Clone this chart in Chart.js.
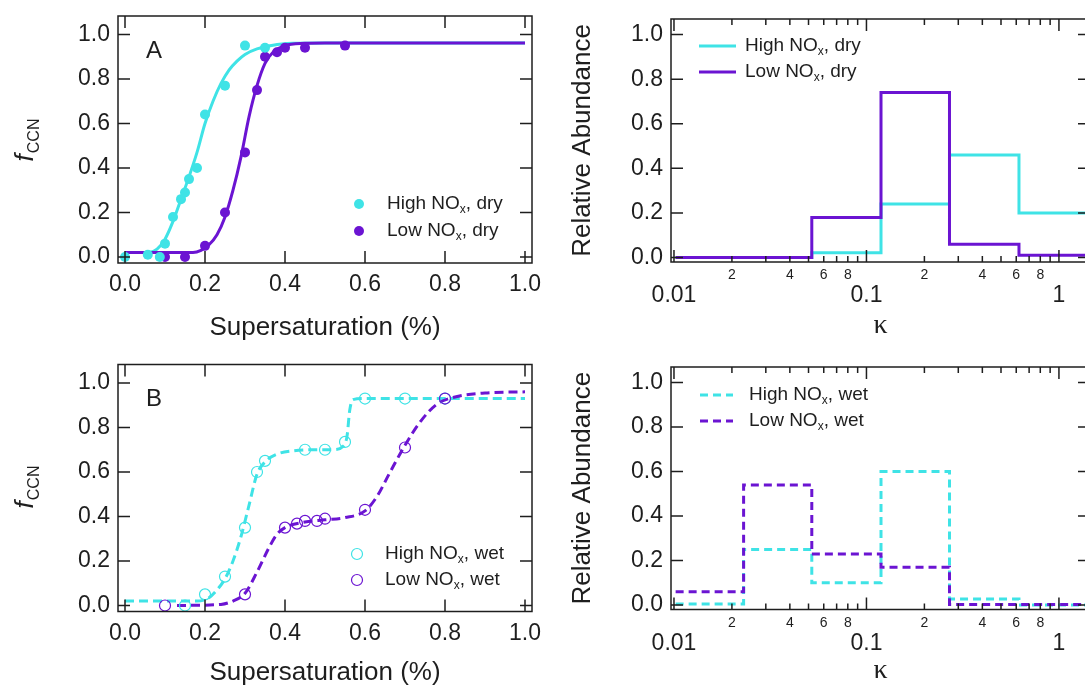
<!DOCTYPE html>
<html>
<head>
<meta charset="utf-8">
<script src="https://cdn.jsdelivr.net/npm/chart.js@4.4.1/dist/chart.umd.min.js"></script>
<style>
html, body { margin: 0; padding: 0; background: #fff; overflow: hidden; width: 1085px; height: 690px; }
canvas { position: absolute; }
</style>
</head>
<body>
<canvas id="pA" width="545" height="345" style="left:0;top:0"></canvas>
<canvas id="pAk" width="560" height="345" style="left:545px;top:0"></canvas>
<canvas id="pB" width="545" height="345" style="left:0;top:345px"></canvas>
<canvas id="pBk" width="560" height="345" style="left:545px;top:345px"></canvas>
<script>
var FONT = "'Liberation Sans', Arial, Helvetica, sans-serif";
var INK = '#1e1e1e';
var CYAN = '#3fe3e6';
var PURPLE = '#6b14d2';

// tick labels
var ssTicks = [0, 0.2, 0.4, 0.6, 0.8, 1.0];
var fracTicks = [0, 0.2, 0.4, 0.6, 0.8, 1.0];
var kappaTicks = [0.01, 0.02, 0.03, 0.04, 0.05, 0.06, 0.07, 0.08, 0.09,
                  0.1, 0.2, 0.3, 0.4, 0.5, 0.6, 0.7, 0.8, 0.9, 1];
var kappaMajor = [0.01, 0.1, 1];
var kappaMinorShown = [2, 4, 6, 8];

// panel A, dry particles: measured points
var highDrySS = [0, 0.057, 0.087, 0.10, 0.12, 0.14, 0.15, 0.16, 0.18, 0.20, 0.25, 0.30, 0.35];
var highDryF  = [0, 0.01, 0, 0.06, 0.18, 0.26, 0.29, 0.35, 0.40, 0.64, 0.77, 0.95, 0.94];
var lowDrySS  = [0.10, 0.15, 0.20, 0.25, 0.30, 0.33, 0.35, 0.38, 0.40, 0.45, 0.55];
var lowDryF   = [0, 0, 0.05, 0.20, 0.47, 0.75, 0.90, 0.92, 0.94, 0.94, 0.95];
// panel A fitted curves
var highDryFitSS = [0, 0.06, 0.08, 0.10, 0.12, 0.14, 0.16, 0.18, 0.20, 0.22, 0.24, 0.26, 0.28, 0.30, 0.33, 0.37, 0.42, 0.5, 1.0];
var highDryFitF  = [0.02, 0.02, 0.035, 0.08, 0.16, 0.26, 0.36, 0.47, 0.60, 0.70, 0.78, 0.84, 0.88, 0.91, 0.935, 0.952, 0.96, 0.962, 0.962];
var lowDryFitSS  = [0, 0.17, 0.19, 0.21, 0.23, 0.25, 0.27, 0.29, 0.31, 0.33, 0.35, 0.37, 0.40, 0.45, 0.5, 1.0];
var lowDryFitF   = [0.02, 0.02, 0.03, 0.055, 0.10, 0.18, 0.30, 0.45, 0.63, 0.77, 0.87, 0.92, 0.95, 0.96, 0.962, 0.962];

// panel B, wet particles: measured points
var highWetSS = [0.15, 0.20, 0.25, 0.30, 0.33, 0.35, 0.45, 0.50, 0.55, 0.60, 0.70, 0.80];
var highWetF  = [0, 0.05, 0.13, 0.35, 0.60, 0.65, 0.70, 0.70, 0.735, 0.93, 0.93, 0.93];
var lowWetSS  = [0.10, 0.30, 0.40, 0.43, 0.45, 0.48, 0.50, 0.60, 0.70, 0.80];
var lowWetF   = [0, 0.05, 0.35, 0.368, 0.38, 0.38, 0.39, 0.43, 0.71, 0.93];
// panel B fitted curves
var highWetFitSS = [0, 0.18, 0.21, 0.23, 0.25, 0.27, 0.29, 0.31, 0.33, 0.35, 0.38, 0.42, 0.47, 0.52, 0.545, 0.555, 0.562, 0.57, 0.6, 1.0];
var highWetFitF  = [0.02, 0.02, 0.035, 0.07, 0.12, 0.20, 0.31, 0.45, 0.59, 0.645, 0.68, 0.695, 0.70, 0.70, 0.715, 0.76, 0.88, 0.925, 0.93, 0.93];
var lowWetFitSS  = [0.13, 0.24, 0.27, 0.30, 0.33, 0.36, 0.38, 0.40, 0.45, 0.50, 0.55, 0.60, 0.63, 0.66, 0.70, 0.74, 0.78, 0.82, 0.90, 1.0];
var lowWetFitF   = [0, 0.005, 0.02, 0.055, 0.15, 0.26, 0.32, 0.35, 0.375, 0.385, 0.395, 0.425, 0.49, 0.59, 0.72, 0.83, 0.905, 0.935, 0.955, 0.96];

// kappa distributions (bin edges and relative abundance per bin)
var kappaEdges = [0.0102, 0.023, 0.052, 0.119, 0.27, 0.62, 1.42];
var highDryAbund = [0, 0, 0.022, 0.24, 0.46, 0.20];
var lowDryAbund  = [0, 0, 0.18, 0.74, 0.06, 0.01];
var highWetAbund = [0.005, 0.25, 0.10, 0.60, 0.027, 0];
var lowWetAbund  = [0.06, 0.54, 0.23, 0.17, 0.002, 0.002];

function pts(xs, ys) { return xs.map(function (x, i) { return {x: x, y: ys[i]}; }); }
function steps(edges, vals) {
    return edges.map(function (e, i) { return {x: e, y: vals[Math.min(i, vals.length - 1)]}; });
}

function fixBox(size) {
    return function (s) {
        if (s.isHorizontal()) s.height = size; else s.width = size;
        s.paddingLeft = s.paddingRight = s.paddingTop = s.paddingBottom = 0;
    };
}

function ssAxis(h) {
    return {
        type: 'linear', min: -0.0175, max: 1.0175,
        afterBuildTicks: function (s) { s.ticks = ssTicks.map(function (v) { return {value: v}; }); },
        afterFit: fixBox(h),
        grid: {display: false, drawTicks: false},
        border: {display: false},
        ticks: {padding: 8, color: INK, autoSkip: false, maxRotation: 0,
                font: {family: FONT, size: 23},
                callback: function (v) { return v.toFixed(1); }},
        title: {display: true, text: 'Supersaturation (%)', color: INK,
                font: {family: FONT, size: 26}, padding: {top: 0, bottom: 1.5}}
    };
}

function kappaAxis(h) {
    return {
        type: 'logarithmic', min: 0.00965, max: 1.45,
        afterBuildTicks: function (s) { s.ticks = kappaTicks.map(function (v) { return {value: v}; }); },
        afterFit: fixBox(h),
        grid: {display: false, drawTicks: false},
        border: {display: false},
        ticks: {padding: 5, color: INK, autoSkip: false, maxRotation: 0,
                font: function (c) {
                    if (c.tick && kappaMajor.indexOf(c.tick.value) >= 0) return {family: FONT, size: 23, lineHeight: 0.84};
                    return {family: FONT, size: 14, lineHeight: 1.2};
                },
                callback: function (v) {
                    if (kappaMajor.indexOf(v) >= 0) return ['', String(v)];
                    var m = Math.round(v / Math.pow(10, Math.floor(Math.log10(v) + 1e-9)));
                    return kappaMinorShown.indexOf(m) >= 0 ? String(m) : '';
                }},
        title: {display: true, text: 'κ', color: INK,
                font: {family: "'Liberation Serif', 'DejaVu Serif', serif", size: 28}, padding: {top: 0, bottom: 3}}
    };
}

function fracAxis(w, min, max, title) {
    return {
        type: 'linear', min: min, max: max,
        afterBuildTicks: function (s) { s.ticks = fracTicks.map(function (v) { return {value: v}; }); },
        afterFit: fixBox(w),
        grid: {display: false, drawTicks: false},
        border: {display: false},
        ticks: {padding: 8, color: INK, autoSkip: false,
                font: {family: FONT, size: 23},
                callback: function (v) { return v.toFixed(1); }},
        title: title ? {display: true, text: title, color: INK,
                        font: {family: FONT, size: 26}, padding: {top: 22.5, bottom: 0}} : {display: false}
    };
}

function drawRich(ctx, text, x, y, size) {
    var parts = text.split(/_(.)/);
    ctx.save();
    ctx.fillStyle = INK;
    ctx.textBaseline = 'middle';
    ctx.textAlign = 'left';
    parts.forEach(function (p, i) {
        var sub = i % 2 === 1;
        ctx.font = (sub ? Math.round(size * 0.62) : size) + 'px ' + FONT;
        ctx.fillText(p, x, sub ? y + size * 0.3 : y);
        x += ctx.measureText(p).width;
    });
    ctx.restore();
}

function drawFccn(ctx, x, y) {
    ctx.save();
    ctx.translate(x, y);
    ctx.rotate(-Math.PI / 2);
    ctx.fillStyle = INK;
    ctx.textAlign = 'left';
    ctx.textBaseline = 'alphabetic';
    ctx.font = 'italic 26px ' + FONT;
    var wf = ctx.measureText('f').width;
    ctx.font = '16px ' + FONT;
    var ws = ctx.measureText('CCN').width;
    var x0 = -(wf + ws + 1) / 2;
    ctx.font = 'italic 26px ' + FONT;
    ctx.fillText('f', x0, 6);
    ctx.font = '16px ' + FONT;
    ctx.fillText('CCN', x0 + wf + 1, 12);
    ctx.restore();
}

// frame, inward ticks on four sides, panel letter, legend
function decor(cfg) {
    return {
        id: 'decor',
        afterDraw: function (chart) {
            var ctx = chart.ctx, a = chart.chartArea;
            var xs = chart.scales.x, ys = chart.scales.y;
            ctx.save();
            ctx.strokeStyle = INK;
            ctx.lineWidth = 1.5;
            ctx.beginPath();
            xs.ticks.forEach(function (t) {
                var px = xs.getPixelForValue(t.value);
                if (px < a.left - 0.5 || px > a.right + 0.5) return;
                var len = (cfg.log && kappaMajor.indexOf(t.value) < 0) ? 6 : 12;
                ctx.moveTo(px, a.bottom); ctx.lineTo(px, a.bottom - len);
                ctx.moveTo(px, a.top); ctx.lineTo(px, a.top + len);
            });
            ys.ticks.forEach(function (t) {
                var py = ys.getPixelForValue(t.value);
                ctx.moveTo(a.left, py); ctx.lineTo(a.left + 12, py);
                ctx.moveTo(a.right, py); ctx.lineTo(a.right - 12, py);
            });
            ctx.stroke();
            ctx.strokeRect(a.left, a.top, a.right - a.left, a.bottom - a.top);
            ctx.restore();

            if (cfg.letter) {
                ctx.save();
                ctx.fillStyle = INK;
                ctx.font = '24px ' + FONT;
                ctx.textAlign = 'center';
                ctx.textBaseline = 'middle';
                ctx.fillText(cfg.letter[0], cfg.letter[1], cfg.letter[2]);
                ctx.restore();
            }
            if (cfg.fccn) drawFccn(ctx, cfg.fccn[0], cfg.fccn[1]);

            var L = cfg.legend;
            if (L) {
                L.items.forEach(function (di, k) {
                    var ds = chart.data.datasets[di];
                    var y = L.y[k];
                    ctx.save();
                    if (L.kind === 'dot') {
                        ctx.beginPath();
                        ctx.arc(L.mx, y, ds.pointRadius, 0, 2 * Math.PI);
                        ctx.fillStyle = ds.backgroundColor;
                        ctx.fill();
                        if (ds.borderWidth > 0) {
                            ctx.strokeStyle = ds.borderColor;
                            ctx.lineWidth = ds.borderWidth;
                            ctx.stroke();
                        }
                    } else {
                        ctx.strokeStyle = ds.borderColor;
                        ctx.lineWidth = ds.borderWidth;
                        ctx.setLineDash(ds.borderDash || []);
                        ctx.beginPath();
                        ctx.moveTo(L.x0, y);
                        ctx.lineTo(L.x1, y);
                        ctx.stroke();
                    }
                    ctx.restore();
                    drawRich(ctx, ds.label, L.tx, y, 19);
                });
            }
        }
    };
}

function dots(label, xs, ys, color, open) {
    return {label: label, data: pts(xs, ys), showLine: false,
            pointRadius: open ? 5.5 : 5, pointHoverRadius: 0,
            backgroundColor: open ? 'rgba(255,255,255,0)' : color,
            borderColor: color, borderWidth: open ? 1.2 : 0};
}
function curve(label, xs, ys, color, dash) {
    return {label: label, data: pts(xs, ys), showLine: true, pointRadius: 0,
            borderColor: color, backgroundColor: color, borderWidth: 3,
            borderDash: dash || [], cubicInterpolationMode: 'monotone'};
}
function hist(label, vals, color, dash) {
    return {label: label, data: steps(kappaEdges, vals), showLine: true, pointRadius: 0,
            stepped: 'before', borderColor: color, backgroundColor: color, borderWidth: 3,
            borderDash: dash || []};
}

function make(id, datasets, scales, padding, plugin) {
    return new Chart(document.getElementById(id), {
        type: 'scatter',
        data: {datasets: datasets},
        options: {
            responsive: false, animation: false, devicePixelRatio: 1, events: [],
            layout: {padding: padding},
            plugins: {legend: {display: false}, tooltip: {enabled: false}},
            scales: scales
        },
        plugins: [plugin]
    });
}

make('pA', [
    dots('High NO_x, dry', highDrySS, highDryF, CYAN, false),
    dots('Low NO_x, dry', lowDrySS, lowDryF, PURPLE, false),
    curve('Low NOx, dry fit', lowDryFitSS, lowDryFitF, PURPLE),
    curve('High NOx, dry fit', highDryFitSS, highDryFitF, CYAN)
], {x: ssAxis(82), y: fracAxis(118, -0.027, 1.083)},
   {left: 0, top: 16, right: 13, bottom: 0},
   decor({letter: ['A', 154, 51], fccn: [27, 140],
          legend: {kind: 'dot', items: [0, 1], mx: 359, tx: 387, y: [204, 231]}}));

make('pB', [
    dots('Low NO_x, wet', lowWetSS, lowWetF, PURPLE, true),
    dots('High NO_x, wet', highWetSS, highWetF, CYAN, true),
    curve('Low NOx, wet fit', lowWetFitSS, lowWetFitF, PURPLE, [9, 5]),
    curve('High NOx, wet fit', highWetFitSS, highWetFitF, CYAN, [9, 5])
], {x: ssAxis(78.5), y: fracAxis(118, -0.027, 1.083)},
   {left: 0, top: 19.5, right: 13, bottom: 0},
   decor({letter: ['B', 154, 54], fccn: [27, 142],
          legend: {kind: 'dot', items: [1, 0], mx: 357, tx: 385, y: [209, 235]}}));

make('pAk', [
    hist('Low NO_x, dry', lowDryAbund, PURPLE),
    hist('High NO_x, dry', highDryAbund, CYAN)
], {x: kappaAxis(83), y: fracAxis(126, -0.02, 1.07, 'Relative Abundance')},
   {left: 0, top: 19, right: 15, bottom: 0},
   decor({log: true, legend: {kind: 'line', items: [1, 0], x0: 154, x1: 191, tx: 200, y: [46, 72]}}));

make('pBk', [
    hist('Low NO_x, wet', lowWetAbund, PURPLE, [8, 5]),
    hist('High NO_x, wet', highWetAbund, CYAN, [8, 5])
], {x: kappaAxis(80.5), y: fracAxis(126, -0.02, 1.07, 'Relative Abundance')},
   {left: 0, top: 22, right: 15, bottom: 0},
   decor({log: true, legend: {kind: 'line', items: [1, 0], x0: 155, x1: 188, tx: 204, y: [50, 76]}}));
</script>
</body>
</html>
